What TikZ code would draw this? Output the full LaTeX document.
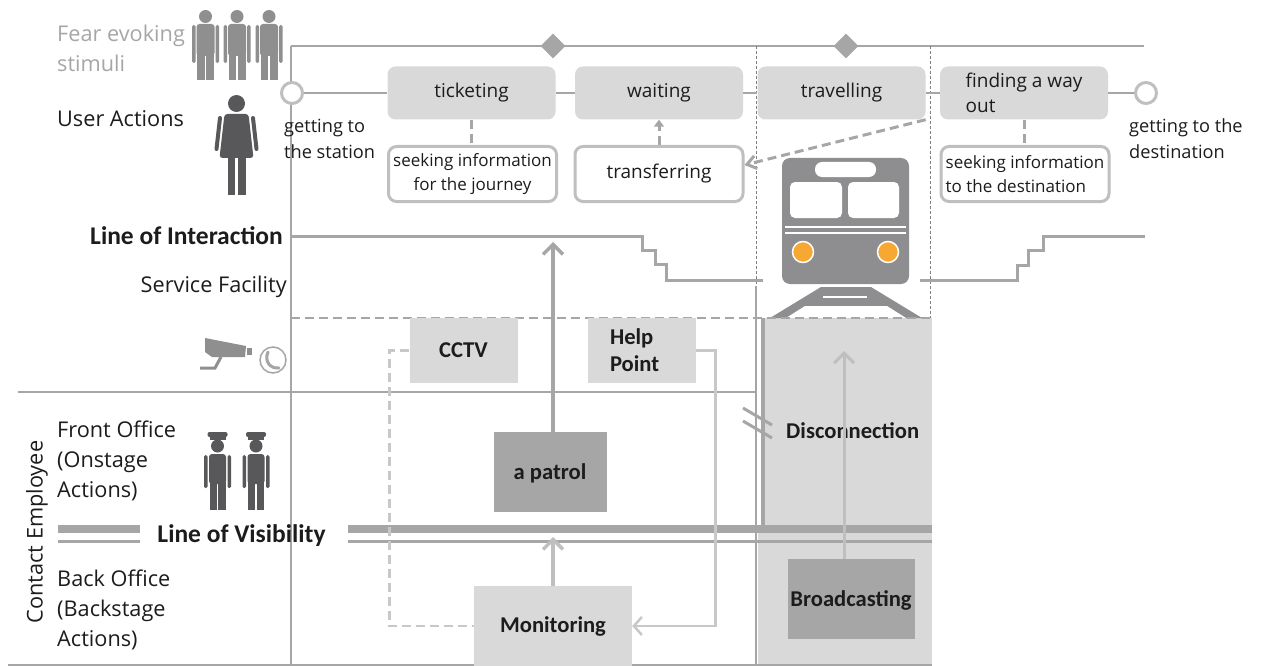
\documentclass[tikz,border=0pt]{standalone}
\usepackage{fontspec}
\setmainfont{Open Sans}
\newfontfamily\calibri{Carlito}
\usepackage{tikz}
\usetikzlibrary{shapes.geometric}
\usetikzlibrary{arrows.meta}

\definecolor{boxgray}{HTML}{D9D9D9}
\definecolor{darkbox}{HTML}{A6A6A6}
\definecolor{linegray}{HTML}{A6A6A6}
\definecolor{rimgray}{HTML}{BFBFBF}
\definecolor{palegray}{HTML}{C8C8C8}
\definecolor{mangray}{HTML}{8F8F8F}
\definecolor{staffgray}{HTML}{58585A}
\definecolor{traingray}{HTML}{8E8E90}
\definecolor{lamp}{HTML}{F7A833}
\definecolor{ink}{HTML}{1C1C1C}

\newcommand{\lblfont}{\fontsize{21.7}{30}\selectfont}
\newcommand{\actfont}{\fontsize{19}{25}\selectfont}
\newcommand{\subfont}{\fontsize{17}{24}\selectfont}
\newcommand{\notefont}{\fontsize{18.2}{25}\selectfont}
\newcommand{\linefont}{\calibri\bfseries\fontsize{25.5}{30}\selectfont}
\newcommand{\boxfont}{\calibri\bfseries\fontsize{22.6}{27}\selectfont}

% pictograms, drawn from the top of the head down
\tikzset{
  man/.pic={
    \fill (0,6.5) circle (6.5);
    \fill[rounded corners=3] (-9,14) rectangle (9,46);
    \fill[rounded corners=1.5] (-13.5,15) rectangle (-10,53);
    \fill[rounded corners=1.5] (10,15) rectangle (13.5,53);
    \fill (-8.5,44) rectangle (-0.8,70);
    \fill (0.8,44) rectangle (8.5,70);
  },
  woman/.pic={
    \fill (0,8.5) circle (8.5);
    \fill[rounded corners=3] (-12,19) -- (12,19) -- (17,63) -- (-17,63) -- cycle;
    \draw[line width=4, line cap=round] (-16.5,23) -- (-20,54) (16.5,23) -- (20,54);
    \fill (-9,62) rectangle (-1.5,100);
    \fill (1.5,62) rectangle (9,100);
  },
  officer/.pic={
    \fill[rounded corners=2] (-10,0) rectangle (10,5);
    \fill (-8,5) rectangle (8,8);
    \fill (0,14) circle (6.5);
    \fill[rounded corners=3] (-8.5,22) rectangle (8.5,52);
    \fill[rounded corners=1.5] (-13.5,23) rectangle (-10,56);
    \fill[rounded corners=1.5] (10,23) rectangle (13.5,56);
    \fill (-8,50) rectangle (-0.8,78);
    \fill (0.8,50) rectangle (8,78);
  }
}

\begin{document}
\begin{tikzpicture}[x=1pt, y=-1pt, text=ink,
  act/.style={fill=boxgray, rounded corners=8, minimum width=168, minimum height=53, inner sep=0, font=\actfont},
  sub/.style={draw=rimgray, line width=3, fill=white, rounded corners=8, minimum width=168, minimum height=55, inner sep=0, font=\subfont},
  stop/.style={circle, draw=rimgray, line width=3, fill=white, minimum size=21, inner sep=0},
  gate/.style={diamond, fill=linegray, minimum width=25, minimum height=25, inner sep=0},
  lbl/.style={inner sep=0, font=\lblfont},
  fac/.style={fill=boxgray, inner sep=0, font=\boxfont},
  staff/.style={fill=darkbox, inner sep=0, font=\boxfont},
  rule/.style={linegray, line width=2.5},
  link/.style={linegray, line width=3, dash pattern=on 9pt off 5pt},
  feed/.style={palegray, line width=2.5},
  lift/.style={line width=3.5, -{Straight Barb[length=10pt,width=20pt]}}]

  \useasboundingbox (0,0) rectangle (1261,666);

  % backstage of the train
  \fill[boxgray] (765,318) rectangle (932,528);
  \fill[boxgray] (758,528) rectangle (932,666);

  % train
  \fill[traingray, rounded corners=8] (782,158) rectangle (909,284);
  \fill[white, rounded corners=7] (815,162) rectangle (876,177);
  \fill[white, rounded corners=5] (790,182) rectangle (842,218);
  \fill[white, rounded corners=5] (848,182) rectangle (899,218);
  \draw[white, line width=2] (785,226.5) -- (906,226.5) (785,232.5) -- (906,232.5);
  \foreach \lx in {803,888}
    \draw[white, fill=lamp, line width=1.5] (\lx,252) circle (10.5);
  \fill[traingray] (770,318) -- (821,287) -- (871,287) -- (922,318) -- cycle;
  \draw[white, line width=2.5] (823,297) -- (867,297);
  \fill[white] (786,318) -- (805,306) -- (887,306) -- (906,318) -- cycle;

  % swimlanes
  \draw[rule] (1144,46) -- (291,46);
  \draw[linegray, line width=1.8] (291,46) -- (291,666);
  \draw[gray, line width=0.8, dash pattern=on 3pt off 2pt] (756,46) -- (756,288) (930,46) -- (930,318);
  \node[gate] (gate1) at (553,46) {};
  \node[gate] (gate2) at (846,46) {};
  \draw[rule] (18,392) -- (756,392);
  \draw[rule] (8,665) -- (932,665);
  \draw[rule, dash pattern=on 9pt off 5pt] (291,318) -- (935,318);
  \draw[rule, line width=3] (291,236) -- (642,236) -- (642,250) -- (655,250) -- (655,264) -- (666,264) -- (666,280) -- (763,280);
  \draw[rule, line width=3] (920,280) -- (1017,280) -- (1017,265) -- (1028,265) -- (1028,250) -- (1043,250) -- (1043,236) -- (1145,236);
  \draw[rule, line width=2] (756,286) -- (756,666);
  \draw[rule, line width=3.5] (763,318) -- (763,528);
  \draw[linegray, line width=8] (58,528.5) -- (140,528.5) (348,528.5) -- (932,528.5);
  \draw[linegray, line width=3] (58,541.5) -- (140,541.5) (348,541.5) -- (932,541.5);
  \draw[rule, line width=3] (743,408) -- (772,425) (743,421) -- (772,438);

  % people
  \foreach \mx in {205.5,237,269}
    \pic[mangray] at (\mx,10) {man};
  \pic[staffgray] at (236.5,95) {woman};
  \pic[staffgray] at (217.5,432) {officer};
  \pic[staffgray] at (256,432) {officer};

  % camera and help phone
  \fill[mangray] (205,338) -- (246,346) -- (245,357) -- (212,357) -- (205,352) -- cycle;
  \fill[mangray] (247,348) rectangle (252,355);
  \draw[mangray, line width=3] (200,368) -- (215,368) -- (221,357);
  \draw[mangray!80, line width=1.5] (273,360) circle (13);
  \draw[mangray!80, line width=3, line cap=round] (268,352) .. controls (264,361) and (270,369) .. (279,368);

  % lane labels (multi-line nodes sit on their last baseline)
  \node[lbl, text=linegray, align=left, anchor=base west] (fear) at (57,72) {Fear evoking\\stimuli};
  \node[lbl, anchor=base west] (user) at (57,127) {User Actions};
  \node[lbl, font=\linefont, anchor=base east] (interact) at (283,244) {Line of Interaction};
  \node[lbl, anchor=base east] (facility) at (287,292.5) {Service Facility};
  \node[lbl, align=left, anchor=base west] (front) at (57,497) {Front Office\\(Onstage\\Actions)};
  \node[lbl, align=left, anchor=base west] (back) at (57,646) {Back Office\\(Backstage\\Actions)};
  \node[lbl, rotate=90] (contact) at (37,532) {Contact Employee};
  \node[lbl, font=\linefont, anchor=base] (visible) at (241.5,542) {Line of Visibility};

  % user journey
  \node[stop] (start) at (292,93) {};
  \node[stop] (finish) at (1146,93) {};
  \node[lbl, font=\notefont, align=left, anchor=base west] (depart) at (284,158) {getting to\\the station};
  \node[lbl, font=\notefont, align=left, anchor=base west] (arrive) at (1129,158) {getting to the\\destination};
  \node[act] (ticket) at (471.5,93) {ticketing};
  \node[act] (wait) at (659,93) {waiting};
  \node[act] (travel) at (841.5,93) {travelling};
  \node[act, align=left] (wayout) at (1024,93) {finding a way\\out};
  \node[sub, align=center] (seekjour) at (472.5,174) {seeking information\\for the journey};
  \node[sub, font=\actfont] (transfer) at (659,174) {transferring};
  \node[sub, align=left] (seekdest) at (1025,174) {seeking information\\to the destination};

  \draw[rule] (start) -- (ticket) -- (wait) -- (travel) -- (wayout) -- (finish);
  \draw[link] (ticket.south) -- (ticket.south |- seekjour.north);
  \draw[link, -{Triangle[length=7pt,width=10pt]}] (transfer.north) -- (wait.south);
  \draw[link, -{Straight Barb[length=9pt,width=13pt]}] (travel.south east) -- (transfer.6);
  \draw[link] (wayout.south) -- (wayout.south |- seekdest.north);

  % facilities and staff
  \node[fac, minimum width=108, minimum height=65] (cctv) at (463.5,350.5) {CCTV};
  \node[fac, minimum width=108, minimum height=65, text width=63, align=left] (help) at (641.5,350.5) {Help\\Point};
  \node[staff, minimum width=113, minimum height=80, text depth=0] (patrol) at (550,472) {a patrol};
  \node[fac, minimum width=158, minimum height=80] (monitor) at (553,626) {Monitoring};
  \node[staff, minimum width=127, minimum height=80, text depth=0] (broadcast) at (851,599) {Broadcasting};
  \node[lbl, font=\boxfont, anchor=base west] (disconn) at (786,438) {Disconnection};

  \coordinate (lookout) at (553,242);
  \coordinate (seen) at (553,537);
  \coordinate (announce) at (844,351);
  \draw[feed, dash pattern=on 9pt off 5pt] (cctv.west) -- ++(-20,0) |- (monitor.west);
  \draw[feed, -{Straight Barb[length=8pt,width=18pt]}] (help.east) -- ++(20,0) |- (monitor.east);
  \draw[lift, linegray] (patrol.north -| lookout) -- (lookout);
  \draw[lift, rimgray] (monitor.north -| seen) -- (seen);
  \draw[lift, rimgray, line width=3] (broadcast.north -| announce) -- (announce);
\end{tikzpicture}
\end{document}
